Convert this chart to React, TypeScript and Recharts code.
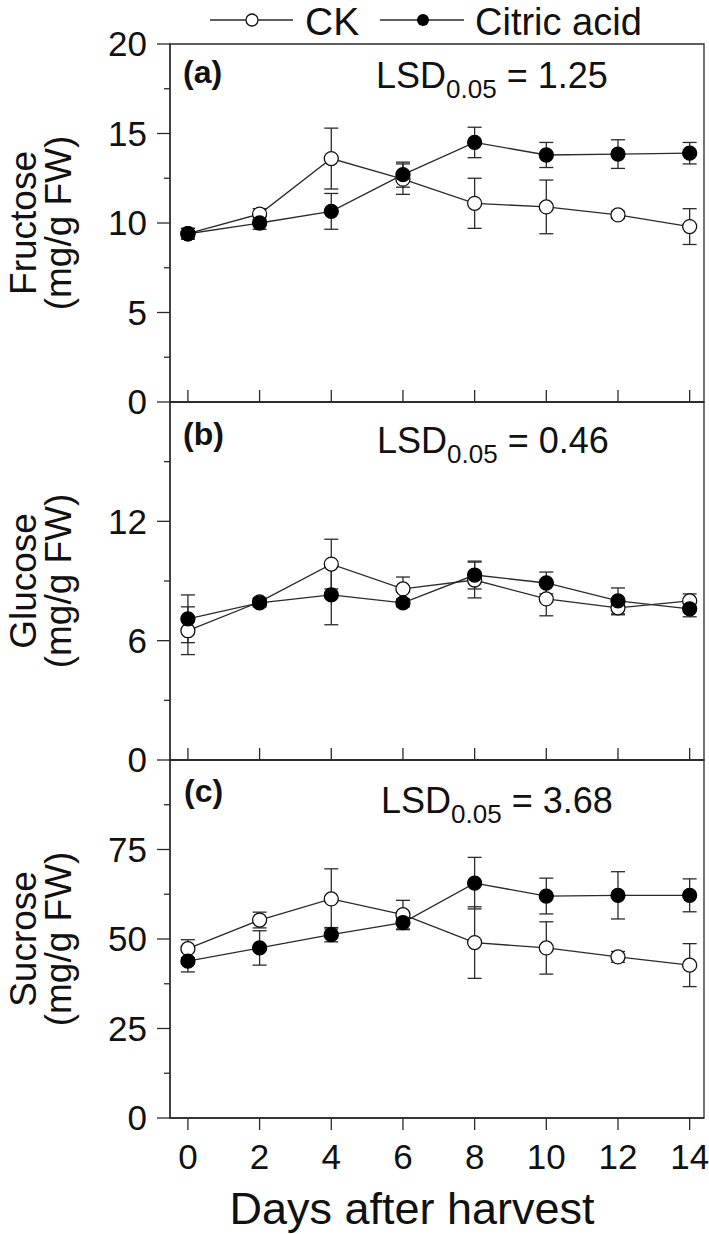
import React from "react"
import {
  LineChart,
  Line,
  XAxis,
  YAxis,
  ErrorBar,
  ReferenceArea,
} from "recharts"

const days = [0, 2, 4, 6, 8, 10, 12, 14]

const fructoseCK = [9.4, 10.5, 13.6, 12.45, 11.1, 10.9, 10.45, 9.8]
const fructoseCKErr = [0.3, 0.3, 1.7, 0.85, 1.4, 1.5, 0.2, 1.0]
const fructoseCA = [9.4, 10.0, 10.65, 12.7, 14.5, 13.8, 13.85, 13.9]
const fructoseCAErr = [0.3, 0.35, 1.0, 0.7, 0.85, 0.7, 0.8, 0.6]

const glucoseCK = [6.5, 7.95, 9.85, 8.6, 9.05, 8.1, 7.65, 8.0]
const glucoseCKErr = [1.2, 0.2, 1.25, 0.6, 0.9, 0.85, 0.35, 0.35]
const glucoseCA = [7.1, 7.9, 8.3, 7.9, 9.3, 8.9, 8.0, 7.6]
const glucoseCAErr = [1.2, 0.2, 1.5, 0.2, 0.7, 0.55, 0.65, 0.4]

const sucroseCK = [47.3, 55.3, 61.2, 56.8, 49.0, 47.5, 45.0, 42.7]
const sucroseCKErr = [2.5, 2.2, 8.4, 4.0, 10.0, 7.3, 1.5, 6.0]
const sucroseCA = [43.8, 47.5, 51.2, 54.6, 65.6, 62.0, 62.2, 62.2]
const sucroseCAErr = [3.0, 4.8, 2.0, 2.0, 7.2, 5.0, 6.6, 4.6]

const fructoseTicks = [0, 2.5, 5, 7.5, 10, 12.5, 15, 17.5, 20]
const fructoseLabels = [0, 5, 10, 15, 20]
const glucoseTicks = [0, 3, 6, 9, 12, 15]
const glucoseLabels = [0, 6, 12]
const sucroseTicks = [0, 12.5, 25, 37.5, 50, 62.5, 75, 87.5]
const sucroseLabels = [0, 25, 50, 75]

const FONT = "'Liberation Sans', Arial, sans-serif"
const INK = "#2a2a2a"
const X_DOMAIN: [number, number] = [-0.5, 14.4]

const rows = (ck: number[], ckErr: number[], ca: number[], caErr: number[]) =>
  days.map((d, i) => ({ day: d, ck: ck[i], ckErr: ckErr[i], ca: ca[i], caErr: caErr[i] }))

const YTick = ({ x, y, payload, labels }: any) => {
  const major = labels.includes(payload.value)
  return (
    <g>
      <line x1={x + (major ? 10 : 17)} x2={x + 23} y1={y} y2={y} stroke={INK} strokeWidth={1.3} />
      {major && (
        <text x={x} y={y} dy="0.355em" textAnchor="end" fontSize={35} fontFamily={FONT} fill="#111">
          {payload.value}
        </text>
      )}
    </g>
  )
}

// inward x ticks for the upper panels
const InnerXTick = ({ x, y }: any) => (
  <line x1={x} x2={x} y1={y} y2={y - 12} stroke={INK} strokeWidth={1.3} />
)

interface PanelProps {
  data: any[]
  max: number
  ticks: number[]
  labels: number[]
  top: number
  height: number
  marginTop: number
  bottom?: boolean
}

function Panel({ data, max, ticks, labels, top, height, marginTop, bottom }: PanelProps) {
  return (
    <div style={{ position: "absolute", left: 0, top }}>
      <LineChart
        width={709}
        height={height}
        data={data}
        margin={{ top: marginTop, right: 5, left: 0, bottom: 0 }}
      >
        <ReferenceArea
          x1={X_DOMAIN[0]}
          x2={X_DOMAIN[1]}
          y1={0}
          y2={max}
          fill="none"
          stroke={INK}
          strokeWidth={1.3}
        />
        {bottom ? (
          <XAxis
            dataKey="day"
            type="number"
            domain={X_DOMAIN}
            ticks={days}
            allowDataOverflow
            height={116}
            tickSize={12}
            tickMargin={14}
            axisLine={{ stroke: INK, strokeWidth: 1.3 }}
            tickLine={{ stroke: INK, strokeWidth: 1.3 }}
            tick={{ fontSize: 35, fontFamily: FONT, fill: "#111" }}
          />
        ) : (
          <XAxis
            dataKey="day"
            type="number"
            domain={X_DOMAIN}
            ticks={days}
            allowDataOverflow
            height={28}
            tickSize={0}
            tickMargin={0}
            axisLine={{ stroke: INK, strokeWidth: 1.3 }}
            tickLine={false}
            tick={<InnerXTick />}
          />
        )}
        <YAxis
          type="number"
          domain={[0, max]}
          ticks={ticks}
          interval={0}
          allowDataOverflow
          width={170}
          tickSize={13}
          tickMargin={10}
          axisLine={{ stroke: INK, strokeWidth: 1.3 }}
          tickLine={false}
          tick={<YTick labels={labels} />}
        />
        <Line
          type="linear"
          dataKey="ck"
          stroke={INK}
          strokeWidth={1.3}
          dot={{ r: 7, fill: "#fff", stroke: "#111", strokeWidth: 1.3 }}
          isAnimationActive={false}
        >
          <ErrorBar dataKey="ckErr" width={7} stroke={INK} strokeWidth={1.3} direction="y" />
        </Line>
        <Line
          type="linear"
          dataKey="ca"
          stroke={INK}
          strokeWidth={1.3}
          dot={{ r: 7, fill: "#000", stroke: "#000", strokeWidth: 1.3 }}
          isAnimationActive={false}
        >
          <ErrorBar dataKey="caErr" width={7} stroke={INK} strokeWidth={1.3} direction="y" />
        </Line>
      </LineChart>
    </div>
  )
}

const Lsd = ({ x, y, value }: { x: number; y: number; value: string }) => (
  <text x={x} y={y} fontSize={36} fontFamily={FONT} fill="#111">
    LSD
    <tspan fontSize={26} dy={10}>0.05</tspan>
    <tspan dy={-10}> = {value}</tspan>
  </text>
)

const YTitle = ({ cy, name }: { cy: number; name: string }) => (
  <g fontSize={37} fontFamily={FONT} fill="#111" textAnchor="middle">
    <text transform={`translate(36 ${cy}) rotate(-90)`}>{name}</text>
    <text transform={`translate(71 ${cy}) rotate(-90)`}>(mg/g FW)</text>
  </g>
)

export default function App() {
  return (
    <div
      style={{
        position: "absolute",
        left: 0,
        top: 0,
        width: 709,
        height: 1234,
        background: "#fff",
        fontFamily: FONT,
        overflow: "hidden",
      }}
    >
      <Panel
        data={rows(fructoseCK, fructoseCKErr, fructoseCA, fructoseCAErr)}
        max={20}
        ticks={fructoseTicks}
        labels={fructoseLabels}
        top={0}
        height={430}
        marginTop={44}
      />
      <Panel
        data={rows(glucoseCK, glucoseCKErr, glucoseCA, glucoseCAErr)}
        max={18}
        ticks={glucoseTicks}
        labels={glucoseLabels}
        top={372}
        height={416}
        marginTop={30}
      />
      <Panel
        data={rows(sucroseCK, sucroseCKErr, sucroseCA, sucroseCAErr)}
        max={100}
        ticks={sucroseTicks}
        labels={sucroseLabels}
        top={730}
        height={504}
        marginTop={30}
        bottom
      />
      <svg
        width={709}
        height={1234}
        style={{ position: "absolute", left: 0, top: 0, pointerEvents: "none" }}
      >
        {/* legend */}
        <line x1={210} x2={293} y1={20} y2={20} stroke={INK} strokeWidth={1.3} />
        <circle cx={252} cy={20} r={6} fill="#fff" stroke="#111" strokeWidth={1.3} />
        <text x={305} y={35} fontSize={39} fontFamily={FONT} fill="#111">CK</text>
        <line x1={380} x2={464} y1={20} y2={20} stroke={INK} strokeWidth={1.3} />
        <circle cx={423} cy={20} r={6} fill="#000" />
        <text x={475} y={35} fontSize={38} fontFamily={FONT} fill="#111">Citric acid</text>

        {/* panel letters */}
        <g fontSize={32} fontWeight="bold" fontFamily={FONT} fill="#111">
          <text x={183} y={83}>(a)</text>
          <text x={183} y={445}>(b)</text>
          <text x={184} y={802}>(c)</text>
        </g>

        <Lsd x={376} y={88} value="1.25" />
        <Lsd x={377} y={453} value="0.46" />
        <Lsd x={381} y={813} value="3.68" />

        <YTitle cy={223} name="Fructose" />
        <YTitle cy={581} name="Glucose" />
        <YTitle cy={939} name="Sucrose" />

        <text x={412} y={1224} fontSize={45} fontFamily={FONT} fill="#111" textAnchor="middle">
          Days after harvest
        </text>
      </svg>
    </div>
  )
}
